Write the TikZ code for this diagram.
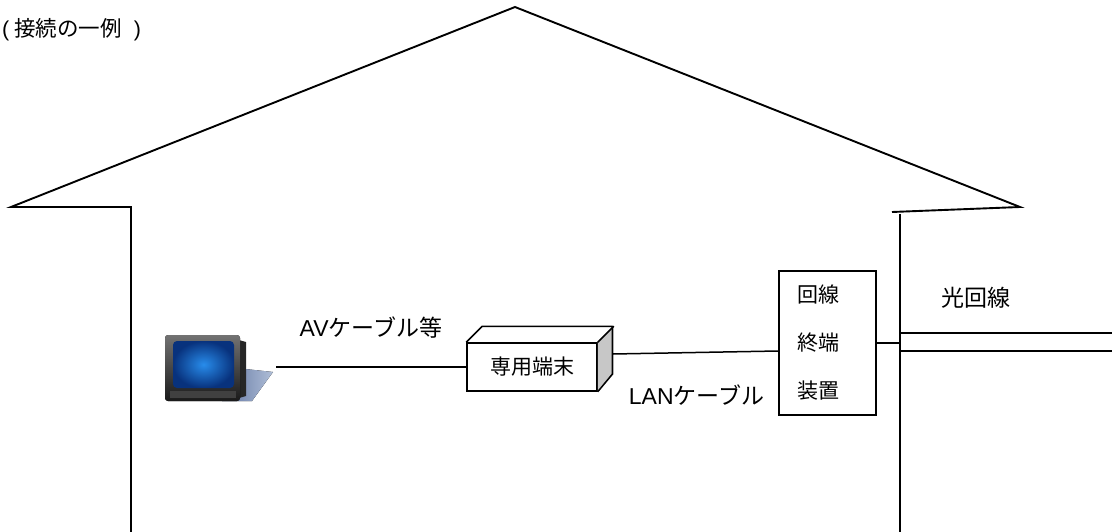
\documentclass[tikz,border=0pt]{standalone}
\usepackage{fontspec}
\setmainfont{Noto Sans CJK JP}
\newfontfamily\latinfont{Liberation Sans}
\usetikzlibrary{positioning}

\begin{document}
\begin{tikzpicture}
    [x=1pt, y=-1pt,
     houseLine/.style={line width=1.9pt, line join=miter},
     cable/.style={line width=1.5pt},
     boxEdge/.style={line width=1.5pt, line join=round},
     frontFace/.style={rectangle, draw=black, fill=white, line width=1.5pt, inner sep=0pt,
                       minimum width=130pt, minimum height=48pt, font=\fontsize{21}{24}\selectfont},
     terminalBox/.style={rectangle, draw=black, line width=1.5pt, inner sep=0pt,
                         minimum width=97pt, minimum height=144pt, text width=61pt, align=left,
                         font=\fontsize{21}{48}\selectfont},
     caption/.style={inner sep=0pt, font=\fontsize{23}{26}\selectfont},
    ]
    \useasboundingbox (0,0) rectangle (1112,532);

    % house outline
    \draw[houseLine] (131,532) -- (131,207) -- (11,207) -- (515,7) -- (1020,207) -- (892,212);
    \draw[houseLine] (900,214) -- (900,532);

    \node[caption, anchor=west, font=\fontsize{21.5}{24}\selectfont] (example) at (2,30)
        {{\latinfont(}\kern5pt 接続の一例\kern12pt{\latinfont)}};

    % television
    \fill[left color={rgb,255:red,95;green,115;blue,160}, right color={rgb,255:red,175;green,190;blue,215}]
        (236,368) -- (273,372) -- (252,401) -- (222,401) -- cycle;
    \fill[black!85] (232,338) -- (246,342) -- (246,396) -- (232,400) -- cycle;
    \fill[rounded corners=3pt, top color=black!55, bottom color=black!90] (165,335) rectangle (240,401);
    \shade[inner color={rgb,255:red,40;green,140;blue,235}, outer color={rgb,255:red,8;green,50;blue,125}]
        [rounded corners=4pt] (173,341) rectangle (234,388);
    \fill[black!75] (170,391) rectangle (236,398);
    \coordinate (tvJack) at (276,367);

    % devices
    \node[frontFace] (dedicated) at (532,367) {専用端末};
    \fill[black!22] (dedicated.north east) -- ++(16,-16) -- ++(0,48) -- (dedicated.south east) -- cycle;
    \draw[boxEdge] (dedicated.north west) -- ++(16,-16) -- ++(130,0) -- ++(0,48) -- (dedicated.south east);
    \draw[boxEdge] (dedicated.north east) -- ++(16,-16);
    \coordinate (dedicatedSide) at (613,354);

    \node[terminalBox] (terminal) at (827.5,343) {回線\\終端\\装置};
    \coordinate (wallPort) at (900,343);

    % cables
    \draw[cable] (tvJack) -- (dedicated.west);
    \draw[cable] (dedicatedSide) -- (terminal.west |- 0,351);
    \draw[cable] (terminal.east) -- (wallPort);
    \draw[cable] (900,333) coordinate (fiberTop) -- (1112,333);
    \draw[cable] (900,351) coordinate (fiberBottom) -- (1112,351);

    \node[caption] (avLabel) at (371,328) {{\latinfont AV}ケーブル等};
    \node[caption, anchor=west] (lanLabel) [right=31pt of dedicated.south east, yshift=-3pt] {{\latinfont LAN}ケーブル};
    \node[caption] (fiberLabel) at (976,298) {光回線};

\end{tikzpicture}
\end{document}
